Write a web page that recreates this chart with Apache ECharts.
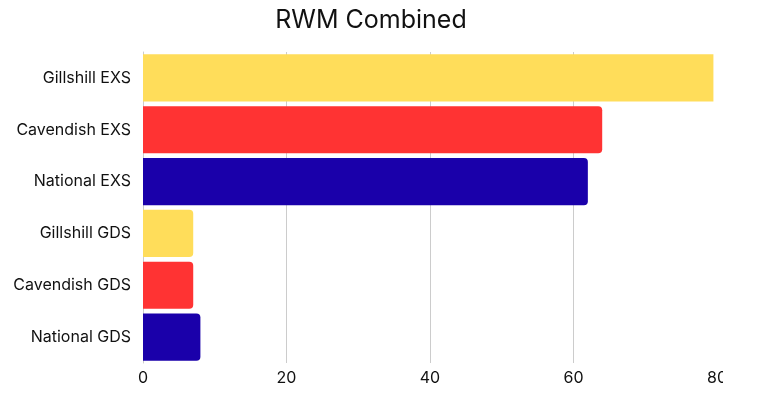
<!DOCTYPE html>
<html>
<head>
<meta charset="UTF-8">
<script src="https://cdn.jsdelivr.net/npm/echarts@6/dist/echarts.min.js"></script>
<style>
  html, body { margin: 0; padding: 0; background: #fff; }
  #wrap { width: 723px; height: 399px; overflow: hidden; }
  #chart { width: 760px; height: 399px; }
</style>
</head>
<body>
<div id="wrap"><div id="chart"></div></div>
<script>
  // top to bottom as in the picture
  var categories = ['Gillshill EXS', 'Cavendish EXS', 'National EXS', 'Gillshill GDS', 'Cavendish GDS', 'National GDS'];
  var values = [79.5, 64, 62, 7, 7, 8];
  var barColors = ['#FFDD5A', '#FF3333', '#1A00AA', '#FFDD5A', '#FF3333', '#1A00AA'];
  var xTicks = [0, 20, 40, 60, 80];

  var font = 'Inter, "Open Sans", sans-serif';
  var chart = echarts.init(document.getElementById('chart'));

  var data = values.map(function (v, i) {
    return { value: v, itemStyle: { color: barColors[i], borderRadius: i === 0 ? 0 : [0, 4, 4, 0] } };
  });

  chart.setOption({
    animation: false,
    title: {
      text: 'RWM Combined',
      left: 366, top: 3, textAlign: 'center',
      textStyle: { fontFamily: font, fontSize: 25, fontWeight: 'normal', color: '#111' }
    },
    grid: { left: 143, right: 43, top: 52, bottom: 36, containLabel: false },
    xAxis: {
      type: 'value',
      min: xTicks[0], max: xTicks[xTicks.length - 1], interval: 20,
      axisLine: { show: false },
      axisTick: { show: false },
      splitLine: { showMaxLine: false, lineStyle: { color: '#cccccc' } },
      axisLabel: { fontFamily: font, fontSize: 16, color: '#111', margin: 7 }
    },
    yAxis: {
      type: 'category',
      data: categories,
      inverse: true,
      axisLine: { lineStyle: { color: '#cccccc' } },
      axisTick: { show: false },
      axisLabel: { fontFamily: font, fontSize: 16, color: '#111', margin: 12 }
    },
    series: [{
      type: 'bar',
      data: data,
      barCategoryGap: '9%'
    }]
  });
</script>
</body>
</html>
